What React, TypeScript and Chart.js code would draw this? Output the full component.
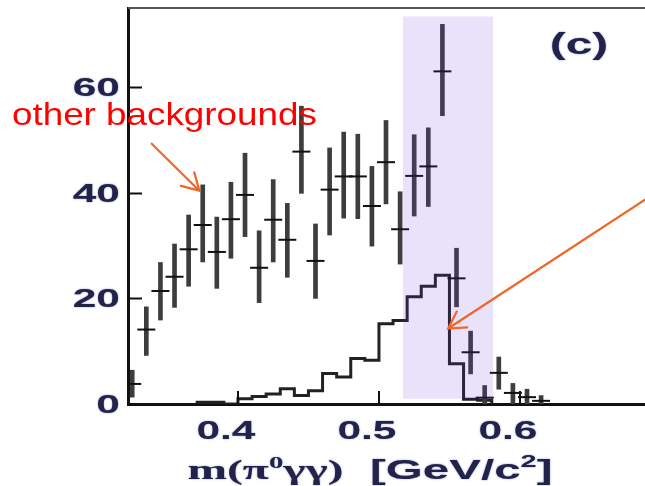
import React, { useEffect, useRef } from "react";
import { Chart, registerables } from "chart.js";

Chart.register(...registerables);

// Measured spectrum: bin centres [GeV/c^2], counts and asymmetric errors
const binCenters = [
  0.325, 0.335, 0.345, 0.355, 0.365, 0.375, 0.385, 0.395, 0.405, 0.415,
  0.425, 0.435, 0.445, 0.455, 0.465, 0.475, 0.485, 0.495, 0.505, 0.515,
  0.525, 0.535, 0.545, 0.555, 0.565, 0.575, 0.585, 0.595, 0.605, 0.615,
];
const counts = [
  3.8, 14.1, 21.4, 24.1, 29.3, 33.9, 28.8, 35.0, 39.6, 25.8,
  34.9, 31.1, 47.8, 27.1, 40.6, 43.1, 43.1, 37.5, 45.8, 33.1,
  43.2, 45.0, 63.0, 23.8, 9.8, 1.2, 5.9, 2.1, 1.3, 0.6,
];
const errUp = [
  2.6, 4.3, 5.4, 6.2, 6.5, 7.6, 6.6, 7.0, 7.9, 7.0,
  7.6, 6.9, 8.6, 7.0, 7.9, 8.4, 8.0, 7.5, 7.9, 7.1,
  7.8, 7.3, 8.9, 5.7, 4.0, 2.3, 3.0, 1.8, 1.5, 1.0,
];
const errDown = [
  2.5, 4.9, 5.5, 5.8, 7.0, 7.0, 6.9, 7.4, 7.9, 6.6,
  8.0, 7.1, 7.9, 7.1, 8.6, 7.9, 8.0, 7.6, 7.9, 6.6,
  7.6, 7.6, 8.4, 5.4, 4.1, 1.2, 3.1, 2.1, 1.3, 0.6,
];

// Simulated signal histogram: left bin edges and contents (last entry closes the histogram)
const simEdges = [
  0.37, 0.38, 0.39, 0.40, 0.41, 0.42, 0.43, 0.44, 0.45, 0.46, 0.47,
  0.48, 0.49, 0.50, 0.51, 0.52, 0.53, 0.54, 0.55, 0.56, 0.57, 0.58,
];
const simCounts = [
  0.35, 0.35, 0, 1.0, 1.4, 1.9, 2.9, 1.6, 2.5, 5.8, 5.1,
  8.6, 8.3, 15.2, 15.8, 20.3, 22.3, 24.4, 7.6, 0.9, 0.7, 0,
];

const xTicks = [0.4, 0.5, 0.6];
const yTicks = [0, 20, 40, 60];
const xRange = [0.322, 0.6887];
const yRange = [0, 75];

// Signal window band
const signalWindowX = [0.517, 0.581];
const signalWindowY = [1.0, 73.4];

// Annotation arrows in data coordinates: [x0, y0, x1, y1]
const bkgArrow = [0.3388, 49.3, 0.3726, 40.4];
const sigArrow = [0.6887, 38.7, 0.5491, 14.3];

const INK = "#22224a";

function drawStretched(
  ctx: CanvasRenderingContext2D,
  text: string,
  x: number,
  y: number,
  sx: number,
  align: CanvasTextAlign
) {
  ctx.save();
  ctx.translate(x, y);
  ctx.scale(sx, 1);
  ctx.textAlign = align;
  ctx.fillText(text, 0, 0);
  ctx.restore();
}

function drawArrow(
  ctx: CanvasRenderingContext2D,
  x0: number,
  y0: number,
  x1: number,
  y1: number
) {
  const ang = Math.atan2(y1 - y0, x1 - x0);
  const head = 19;
  const spread = Math.PI / 6;
  ctx.beginPath();
  ctx.moveTo(x0, y0);
  ctx.lineTo(x1, y1);
  ctx.moveTo(x1 - head * Math.cos(ang - spread), y1 - head * Math.sin(ang - spread));
  ctx.lineTo(x1, y1);
  ctx.lineTo(x1 - head * Math.cos(ang + spread), y1 - head * Math.sin(ang + spread));
  ctx.stroke();
}

const decor = {
  id: "decor",
  afterDatasetsDraw(chart: any) {
    const { ctx, chartArea: a } = chart;
    const x = chart.scales.x;
    const y = chart.scales.y;
    ctx.save();

    // shaded signal window
    const bx0 = x.getPixelForValue(signalWindowX[0]);
    const bx1 = x.getPixelForValue(signalWindowX[1]);
    const by0 = y.getPixelForValue(signalWindowY[1]);
    const by1 = y.getPixelForValue(signalWindowY[0]);
    ctx.fillStyle = "rgba(100,60,230,0.15)";
    ctx.fillRect(bx0, by0, bx1 - bx0, by1 - by0);

    // top frame line
    ctx.strokeStyle = "#555";
    ctx.lineWidth = 2;
    ctx.beginPath();
    ctx.moveTo(a.left, a.top);
    ctx.lineTo(a.right, a.top);
    ctx.stroke();

    // inward tick marks
    ctx.strokeStyle = "#111";
    ctx.lineWidth = 2;
    ctx.beginPath();
    y.ticks.forEach((t: any) => {
      const py = Math.round(y.getPixelForValue(t.value)) + 0.5;
      ctx.moveTo(a.left, py);
      ctx.lineTo(a.left + 14, py);
    });
    x.ticks.forEach((t: any) => {
      const px = Math.round(x.getPixelForValue(t.value));
      ctx.moveTo(px, a.bottom);
      ctx.lineTo(px, a.bottom - 13);
    });
    ctx.stroke();

    // tick labels
    ctx.fillStyle = INK;
    ctx.shadowColor = "rgba(40,60,140,0.55)";
    ctx.shadowBlur = 2;
    ctx.font = 'bold 25px "Liberation Sans", Arial, sans-serif';
    ctx.textBaseline = "middle";
    y.ticks.forEach((t: any) => {
      drawStretched(ctx, String(t.value), a.left - 8, y.getPixelForValue(t.value) + 2, 1.7, "right");
    });
    x.ticks.forEach((t: any) => {
      drawStretched(ctx, t.value.toFixed(1), x.getPixelForValue(t.value) - 12, a.bottom + 28, 1.7, "center");
    });

    // axis title: m(π⁰γγ)  [GeV/c²]
    ctx.textBaseline = "alphabetic";
    const runs = [
      { t: "m(π", f: 'bold 28px "Liberation Serif", serif', dy: 0 },
      { t: "0", f: 'bold 17px "Liberation Serif", serif', dy: -11 },
      { t: "γγ)", f: 'bold 28px "Liberation Serif", serif', dy: 0 },
      { t: "  [GeV/c", f: 'bold 28px "Liberation Sans", sans-serif', dy: 0 },
      { t: "2", f: 'bold 17px "Liberation Sans", sans-serif', dy: -12 },
      { t: "]", f: 'bold 28px "Liberation Sans", sans-serif', dy: 0 },
    ];
    let natural = 0;
    runs.forEach((r) => {
      ctx.font = r.f;
      natural += ctx.measureText(r.t).width;
    });
    const titleWidth = 365;
    const sx = titleWidth / natural;
    const titleCenter = x.getPixelForValue(0.5) - 9;
    ctx.save();
    ctx.translate(titleCenter - titleWidth / 2, a.bottom + 75);
    ctx.scale(sx, 1);
    let cx = 0;
    runs.forEach((r) => {
      ctx.font = r.f;
      ctx.textAlign = "left";
      ctx.fillText(r.t, cx, r.dy);
      cx += ctx.measureText(r.t).width;
    });
    ctx.restore();

    // panel label
    ctx.font = 'bold 30px "Liberation Sans", Arial, sans-serif';
    drawStretched(ctx, "(c)", 579, 54, 1.6, "center");
    ctx.shadowBlur = 0;
    ctx.shadowColor = "transparent";

    // annotations
    ctx.strokeStyle = "#f26522";
    ctx.lineWidth = 2.2;
    ctx.lineCap = "round";
    drawArrow(
      ctx,
      x.getPixelForValue(bkgArrow[0]),
      y.getPixelForValue(bkgArrow[1]),
      x.getPixelForValue(bkgArrow[2]),
      y.getPixelForValue(bkgArrow[3])
    );
    drawArrow(
      ctx,
      x.getPixelForValue(sigArrow[0]),
      y.getPixelForValue(sigArrow[1]),
      x.getPixelForValue(sigArrow[2]),
      y.getPixelForValue(sigArrow[3])
    );

    ctx.fillStyle = "#ff0000";
    ctx.font = '32px "Liberation Sans", Arial, sans-serif';
    drawStretched(ctx, "other backgrounds", 12, 125, 1.15, "left");

    ctx.restore();
  },
};

export default function App() {
  const ref = useRef<HTMLCanvasElement>(null);

  useEffect(() => {
    const canvas = ref.current;
    if (!canvas) return;
    const chart = new Chart(canvas, {
      type: "bar",
      data: {
        datasets: [
          {
            type: "scatter",
            label: "data",
            data: binCenters.map((x, i) => ({ x, y: counts[i] })),
            pointStyle: "line",
            pointRadius: 9,
            pointHoverRadius: 9,
            borderColor: "#111",
            backgroundColor: "#111",
            borderWidth: 2,
            showLine: false,
          } as any,
          {
            type: "bar",
            label: "errors",
            data: binCenters.map((x, i) => ({
              x,
              y: [counts[i] - errDown[i], counts[i] + errUp[i]],
            })),
            backgroundColor: "#3d3d3d",
            borderWidth: 0,
            barThickness: 4,
            grouped: false,
          } as any,
          {
            type: "line",
            label: "signal MC",
            data: simEdges.map((x, i) => ({ x, y: simCounts[i] })),
            stepped: "before",
            borderColor: "#222",
            borderWidth: 3,
            pointRadius: 0,
            fill: false,
          } as any,
        ],
      },
      options: {
        responsive: false,
        animation: false,
        devicePixelRatio: 1,
        layout: { autoPadding: false, padding: { left: 128, top: 8, right: 0, bottom: 82 } },
        plugins: { legend: { display: false }, tooltip: { enabled: false } },
        scales: {
          x: {
            type: "linear",
            offset: false,
            min: xRange[0],
            max: xRange[1],
            afterBuildTicks: (s: any) => {
              s.ticks = xTicks.map((v) => ({ value: v }));
            },
            ticks: { display: false },
            grid: { display: false, drawTicks: false },
            border: { display: true, color: "#111", width: 3 },
          },
          y: {
            type: "linear",
            min: yRange[0],
            max: yRange[1],
            afterBuildTicks: (s: any) => {
              s.ticks = yTicks.map((v) => ({ value: v }));
            },
            ticks: { display: false },
            grid: { display: false, drawTicks: false },
            border: { display: true, color: "#111", width: 3 },
          },
        },
      } as any,
      plugins: [decor],
    });
    return () => chart.destroy();
  }, []);

  return (
    <div style={{ position: "fixed", left: 0, top: 0, width: 645, height: 486, background: "#fff" }}>
      <canvas ref={ref} width={645} height={486} style={{ display: "block", width: 645, height: 486 }} />
    </div>
  );
}
